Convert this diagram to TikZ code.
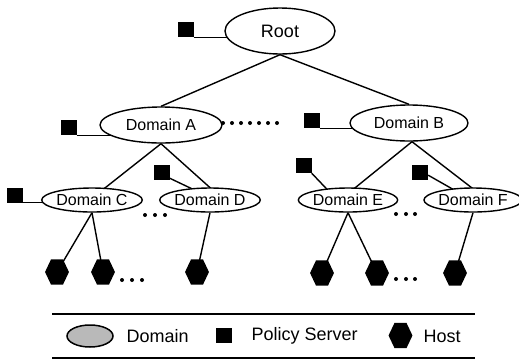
\documentclass[tikz,border=0pt]{standalone}
\usepackage{fontspec}
\setmainfont{Liberation Sans}
\usetikzlibrary{shapes.geometric,backgrounds}
\begin{document}
\begin{tikzpicture}[x=1pt,y=-1pt,
  dombox/.style={ellipse,draw,line width=1.4pt,fill=white,inner sep=0pt,
    font=\fontsize{16}{16}\selectfont},
  server/.style={rectangle,fill=black,minimum width=16pt,minimum height=15pt,inner sep=0pt},
  hostbox/.style={regular polygon,regular polygon sides=6,fill=black,minimum size=26pt,
    inner sep=0pt,xscale=0.92,yscale=1.12},
  link/.style={line width=1.4pt},
  dotmark/.style={circle,fill=black,minimum size=4pt,inner sep=0pt},
  legtext/.style={font=\fontsize{18}{18}\selectfont,anchor=west}]
\useasboundingbox (0,0) rectangle (519,360);

% domains
\node[dombox,minimum width=110pt,minimum height=46pt,font=\fontsize{18}{18}\selectfont]
  (root) at (280,31) {Root};
\node[dombox,minimum width=122pt,minimum height=36pt] (A) at (161,125) {Domain A};
\node[dombox,minimum width=118pt,minimum height=36pt] (B) at (409,123) {Domain B};
\node[dombox,minimum width=80pt,minimum height=24pt] (C) at (92,200) {Domain C};
\node[dombox,minimum width=80pt,minimum height=24pt] (D) at (210,200) {Domain D};
\node[dombox,minimum width=88pt,minimum height=24pt] (E) at (348,200) {Domain E};
\node[dombox,minimum width=88pt,minimum height=24pt] (F) at (473,200) {Domain F};

% policy servers
\node[server] (sR) at (185.5,29.5) {};
\node[server] (sA) at (68.5,127.5) {};
\node[server] (sB) at (311.5,120.5) {};
\node[server] (sC) at (14.5,195) {};
\node[server] (sD) at (161.5,172.5) {};
\node[server] (sE) at (303.5,165.5) {};
\node[server] (sF) at (420,172.5) {};

% hosts
\node[hostbox] (h1) at (57,272) {};
\node[hostbox] (h2) at (103,272) {};
\node[hostbox] (h3) at (197,272) {};
\node[hostbox] (h4) at (322,273) {};
\node[hostbox] (h5) at (377,273) {};
\node[hostbox] (h6) at (455,273) {};

% elided siblings
\foreach \i/\x in {1/223,2/232,3/241,4/250,5/259,6/268,7/277}
  \node[dotmark] (dAB\i) at (\x,123) {};
\foreach \i/\x in {1/145,2/155,3/165} {
  \node[dotmark] (dCD\i) at (\x,215) {};
  \node[dotmark] (dh2\i) at (\x-23,280) {};
}
\foreach \i/\x in {1/396,2/406,3/415} {
  \node[dotmark] (dEF\i) at (\x,214) {};
  \node[dotmark] (dh5\i) at (\x,279) {};
}

\begin{scope}[on background layer]
  % tree edges
  \draw[link] (root.south) -- (A.north);
  \draw[link] (root.south) -- (B.north);
  \draw[link] (A.south) -- ([xshift=10pt,yshift=-3pt]C.north);
  \draw[link] (A.south) -- ([xshift=3pt,yshift=-3pt]D.north);
  \draw[link] ([xshift=3pt]B.south) -- ([xshift=4pt,yshift=-3pt]E.north);
  \draw[link] ([xshift=3pt]B.south) -- ([xshift=2pt,yshift=-3pt]F.north);
  \draw[link] (C.south) -- (h1.center);
  \draw[link] (C.south) -- (h2.center);
  \draw[link] (D.south) -- (h3.center);
  \draw[link] (E.south) -- (h4.center);
  \draw[link] (E.south) -- (h5.center);
  \draw[link] (F.south) -- (h6.center);
  % server attachments
  \draw[link] (sR.south east) -- (sR.south east -| root.center);
  \draw[link] (sA.south east) -- (sA.south east -| A.center);
  \draw[link] (sB.south east) -- (sB.south east -| B.center);
  \draw[link] (sC.south east) -- (sC.south east -| C.center);
  \draw[link] ([yshift=2pt]sD.south east) -- ([xshift=-17pt,yshift=-2pt]D.north);
  \draw[link] (sE.south east) -- ([xshift=-21pt,yshift=-2pt]E.north);
  \draw[link] ([yshift=5pt]sF.south east) -- ([xshift=-20pt,yshift=-2pt]F.north);
\end{scope}

% legend
\coordinate (lt1) at (52,314);
\coordinate (lt2) at (475,314);
\coordinate (lb1) at (52,358);
\coordinate (lb2) at (475,358);
\draw[line width=1.2pt] (lt1) -- (lt2);
\draw[line width=1.2pt] (lb1) -- (lb2);
\node[ellipse,draw,line width=1.5pt,fill=gray!55,minimum width=46pt,minimum height=22pt,
  inner sep=0pt] (lgD) at (90,336) {};
\node[legtext] (ltD) at (123,336) {Domain};
\node[server] (lgS) at (223.5,335.5) {};
\node[legtext] (ltS) at (248,336) {Policy Server};
\node[hostbox] (lgH) at (400.5,335.5) {};
\node[legtext] (ltH) at (420,336) {Host};
\end{tikzpicture}
\end{document}
